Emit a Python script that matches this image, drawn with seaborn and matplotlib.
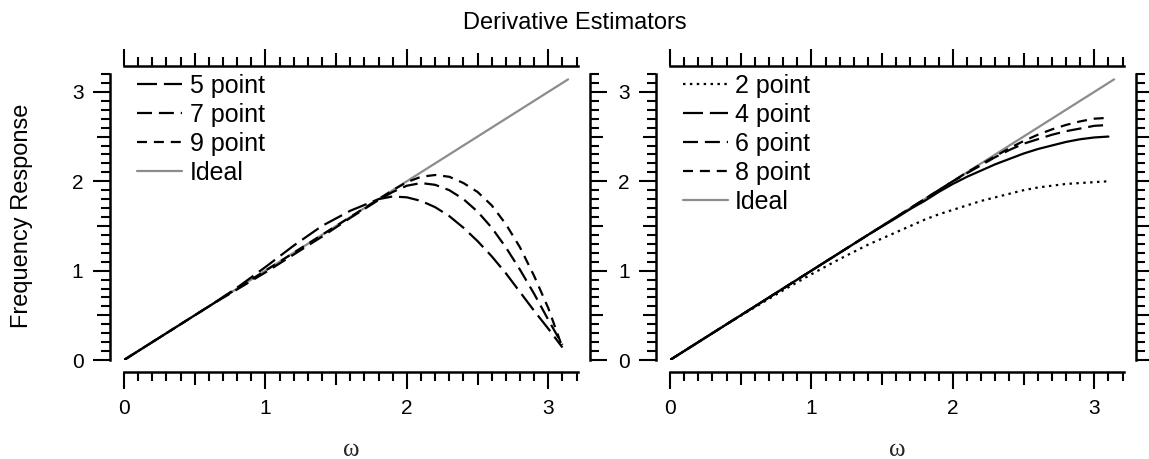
import matplotlib
matplotlib.use('Agg')
import matplotlib.pyplot as plt
import seaborn as sns
from matplotlib.lines import Line2D
from matplotlib.ticker import FixedLocator, FuncFormatter

# values
w_odd = [0, 0.2, 0.4, 0.6, 0.8, 1.0, 1.2, 1.4, 1.6, 1.8, 1.9, 2.0, 2.1, 2.2,
         2.3, 2.4, 2.5, 2.6, 2.7, 2.8, 2.9, 3.0, 3.1]
resp_5pt = [0, 0.20, 0.40, 0.60, 0.81, 1.04, 1.28, 1.50, 1.67, 1.80, 1.83, 1.82,
            1.78, 1.71, 1.61, 1.48, 1.33, 1.16, 0.97, 0.76, 0.55, 0.35, 0.14]
resp_7pt = [0, 0.20, 0.40, 0.60, 0.79, 0.98, 1.18, 1.38, 1.59, 1.79, 1.88, 1.95,
            1.98, 1.96, 1.90, 1.80, 1.66, 1.48, 1.26, 1.01, 0.74, 0.45, 0.17]
resp_9pt = [0, 0.20, 0.40, 0.60, 0.80, 1.00, 1.20, 1.40, 1.60, 1.80, 1.90, 1.99,
            2.05, 2.07, 2.05, 1.98, 1.88, 1.73, 1.52, 1.26, 0.94, 0.58, 0.14]

w_even = [0, 0.2, 0.4, 0.6, 0.8, 1.0, 1.2, 1.4, 1.6, 1.7, 1.8, 1.9, 2.0, 2.1,
          2.2, 2.3, 2.4, 2.5, 2.6, 2.7, 2.8, 2.9, 3.0, 3.1]
resp_2pt = [0, 0.20, 0.40, 0.59, 0.78, 0.96, 1.13, 1.29, 1.43, 1.50, 1.57, 1.63,
            1.68, 1.73, 1.78, 1.82, 1.86, 1.90, 1.93, 1.95, 1.97, 1.98, 1.99, 2.00]
resp_4pt = [0, 0.20, 0.40, 0.60, 0.80, 1.00, 1.20, 1.40, 1.59, 1.69, 1.78, 1.88,
            1.97, 2.05, 2.12, 2.19, 2.25, 2.31, 2.36, 2.40, 2.44, 2.47, 2.49, 2.50]
resp_6pt = [0, 0.20, 0.40, 0.60, 0.80, 1.00, 1.20, 1.40, 1.60, 1.70, 1.80, 1.90,
            2.00, 2.09, 2.18, 2.27, 2.35, 2.42, 2.47, 2.52, 2.56, 2.59, 2.62, 2.63]
resp_8pt = [0, 0.20, 0.40, 0.60, 0.80, 1.00, 1.20, 1.40, 1.60, 1.70, 1.80, 1.90,
            2.00, 2.10, 2.19, 2.28, 2.37, 2.45, 2.52, 2.58, 2.63, 2.67, 2.70, 2.71]

w_ideal = [0, 3.14]
resp_ideal = [0, 3.14]

sns.set_style('ticks')
plt.rcParams['font.family'] = ['Liberation Sans', 'DejaVu Sans']
plt.rcParams['text.color'] = 'black'
plt.rcParams['xtick.color'] = 'black'
plt.rcParams['ytick.color'] = 'black'

LW = 1.6
GRAY = '#8c8c8c'
long_dash = (0, (9, 3.1))
mid_dash = (0, (6.75, 3.1))
short_dash = (0, (4.5, 3.1))
dots = (0, (1.1, 2.0))

fig = plt.figure(figsize=(11.49, 4.59), dpi=100)
ax_l = fig.add_axes([124 / 1149, 99 / 459, 454 / 1149, 286 / 459])
ax_r = fig.add_axes([670 / 1149, 99 / 459, 454 / 1149, 286 / 459])

# left panel: odd-length estimators
sns.lineplot(x=w_ideal, y=resp_ideal, ax=ax_l, color=GRAY, lw=LW)
sns.lineplot(x=w_odd, y=resp_5pt, ax=ax_l, color='black', lw=LW, linestyle=long_dash)
sns.lineplot(x=w_odd, y=resp_7pt, ax=ax_l, color='black', lw=LW, linestyle=mid_dash)
sns.lineplot(x=w_odd, y=resp_9pt, ax=ax_l, color='black', lw=LW, linestyle=short_dash)

# right panel: even-length estimators
sns.lineplot(x=w_ideal, y=resp_ideal, ax=ax_r, color=GRAY, lw=LW)
sns.lineplot(x=w_even, y=resp_2pt, ax=ax_r, color='black', lw=LW, linestyle=dots)
sns.lineplot(x=w_even, y=resp_4pt, ax=ax_r, color='black', lw=LW)
sns.lineplot(x=w_even, y=resp_6pt, ax=ax_r, color='black', lw=LW, linestyle=mid_dash)
sns.lineplot(x=w_even, y=resp_8pt, ax=ax_r, color='black', lw=LW, linestyle=short_dash)

def legend_handle(style, color='black'):
    return Line2D([], [], color=color, lw=LW, linestyle=style)

leg_kw = dict(loc='upper left', frameon=False, fontsize=18, handlelength=1.8,
              handletextpad=0.3, labelspacing=0.2, borderpad=0, borderaxespad=0)
ax_l.legend([legend_handle(long_dash), legend_handle(mid_dash),
             legend_handle(short_dash), legend_handle('-', GRAY)],
            ['5 point', '7 point', '9 point', 'Ideal'],
            bbox_to_anchor=(0.029, 1.0), **leg_kw)
ax_r.legend([legend_handle(dots), legend_handle(long_dash), legend_handle(mid_dash),
             legend_handle(short_dash), legend_handle('-', GRAY)],
            ['2 point', '4 point', '6 point', '8 point', 'Ideal'],
            bbox_to_anchor=(0.028, 1.0), **leg_kw)

major = [0, 0.5, 1.0, 1.5, 2.0, 2.5, 3.0]
minor = [i / 10 for i in range(33) if i % 5 != 0]
fmt = FuncFormatter(lambda v, p: '%d' % round(v) if abs(v - round(v)) < 1e-6 else '')

for ax, left_off in [(ax_l, 10), (ax_r, 9.8)]:
    ax.set_xlim(0, 3.21)
    ax.set_ylim(0, 3.2)
    for side in ['left', 'right', 'bottom', 'top']:
        ax.spines[side].set_visible(True)
        ax.spines[side].set_linewidth(1.8)
        ax.spines[side].set_color('black')
    ax.spines['left'].set_position(('outward', left_off))
    ax.spines['right'].set_position(('outward', 8.8))
    ax.spines['bottom'].set_position(('outward', 8.6))
    ax.spines['top'].set_position(('outward', 5.5))
    for axis in [ax.xaxis, ax.yaxis]:
        axis.set_major_locator(FixedLocator(major))
        axis.set_minor_locator(FixedLocator(minor))
        axis.set_major_formatter(fmt)
    ax.tick_params(which='both', direction='out', top=True, right=True,
                   labeltop=False, labelright=False, width=1.5, color='black')
    ax.tick_params(which='major', length=12.2, labelsize=15, pad=7)
    ax.tick_params(which='minor', length=6.8)
    ax.set_xlabel('ω', fontsize=18, family=['Liberation Serif', 'DejaVu Serif'])
    ax.xaxis.set_label_coords(0.5, -0.275)
    ax.set_ylabel('')
    # half-unit ticks are a bit shorter than the unit ticks
    for axis in [ax.xaxis, ax.yaxis]:
        locs = axis.get_majorticklocs()
        for tick, loc in zip(axis.get_major_ticks(), locs):
            if abs(loc - round(loc)) > 1e-6:
                tick.tick1line.set_markersize(9.4)
                tick.tick2line.set_markersize(9.4)

fig.text(22 / 1149, 1 - 216 / 459, 'Frequency Response', rotation=90,
         ha='center', va='center', fontsize=17)
fig.text(0.5, 1 - 23 / 459, 'Derivative Estimators', ha='center', va='center', fontsize=17)

fig.savefig('out.png', dpi=100)
